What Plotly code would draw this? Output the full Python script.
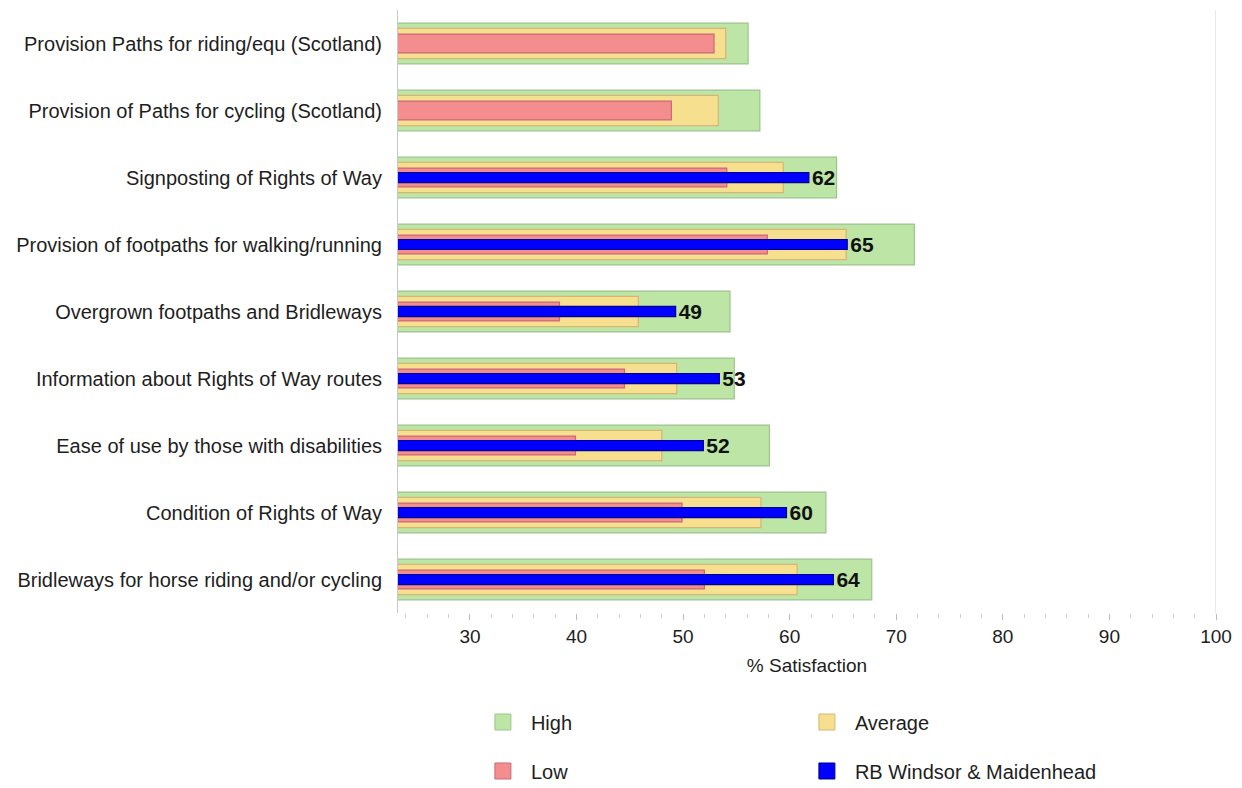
import plotly.graph_objects as go

categories = [
    "Provision Paths for riding/equ (Scotland)",
    "Provision of Paths for cycling (Scotland)",
    "Signposting of Rights of Way",
    "Provision of footpaths for walking/running",
    "Overgrown footpaths and Bridleways",
    "Information about Rights of Way routes",
    "Ease of use by those with disabilities",
    "Condition of Rights of Way",
    "Bridleways for horse riding and/or cycling",
]
high = [56.1, 57.2, 64.4, 71.7, 54.4, 54.8, 58.1, 63.4, 67.7]
average = [54.0, 53.3, 59.4, 65.3, 45.8, 49.4, 48.0, 57.3, 60.7]
low = [52.9, 48.9, 54.1, 57.9, 38.4, 44.5, 39.9, 49.9, 52.0]
rbwm = [None, None, 61.8, 65.4, 49.3, 53.4, 51.9, 59.7, 64.1]
rbwm_labels = ["" if v is None else str(round(v)) for v in rbwm]

FONT = "Liberation Sans, Arial, sans-serif"
TXT = "#1e1e1e"

series = [
    ("High", high, 0.61, "#bde5a6", "#9dc48e", "legend"),
    ("Average", average, 0.45, "#f7df90", "#d4b675", "legend"),
    ("Low", low, 0.28, "#f48e8e", "#c86a78", "legend2"),
    ("RB Windsor & Maidenhead", rbwm, 0.15, "#0000ff", "#00008b", "legend2"),
]

fig = go.Figure()
for name, vals, w, fill, edge, leg in series:
    kw = {}
    if name.startswith("RB"):
        kw = dict(text=rbwm_labels, textposition="outside", constraintext="none",
                  cliponaxis=False,
                  textfont=dict(family=FONT, size=21, color="#111111", weight="bold"))
    fig.add_trace(go.Bar(
        y=categories, x=vals, orientation="h", name=name, width=w,
        marker=dict(color=fill, line=dict(color=edge, width=1.2)),
        showlegend=False, **kw,
    ))
# legend entries (square swatches)
for name, vals, w, fill, edge, leg in series:
    fig.add_trace(go.Scatter(
        x=[None], y=[None], mode="markers", name=name, legend=leg,
        marker=dict(symbol="square", size=16, color=fill, line=dict(color=edge, width=1)),
        hoverinfo="skip",
    ))

legend_common = dict(
    orientation="h", xref="paper", yref="container", x=0.094, xanchor="left",
    yanchor="middle", entrywidth=263, entrywidthmode="pixels", itemwidth=46,
    itemsizing="trace", font=dict(size=20, color=TXT), bgcolor="rgba(0,0,0,0)",
)

fig.update_layout(
    width=1230, height=780,
    barmode="overlay",
    plot_bgcolor="white", paper_bgcolor="white",
    margin=dict(l=390, r=22, t=2, b=175, autoexpand=False),
    font=dict(family=FONT, size=20, color=TXT),
    xaxis=dict(
        range=[23.25, 100], tickvals=[30, 40, 50, 60, 70, 80, 90, 100],
        showgrid=False, zeroline=False, showline=False,
        ticks="outside", ticklen=6, tickcolor="#bbbbbb",
        minor=dict(dtick=2, tick0=0, ticks="outside", ticklen=4, tickcolor="#cccccc"),
        tickfont=dict(size=19, color=TXT),
        title=dict(text="% Satisfaction", font=dict(size=19, color=TXT), standoff=12),
    ),
    yaxis=dict(
        autorange="reversed", showgrid=False, zeroline=False,
        showline=True, linecolor="#c8c8c8", linewidth=1,
        ticks="", ticklabelstandoff=11,
        tickfont=dict(size=20, color=TXT),
    ),
    legend=dict(legend_common, y=0.0846),
    legend2=dict(legend_common, y=0.0218),
    showlegend=True,
)
fig.add_shape(type="line", xref="x", yref="paper", x0=100, x1=100, y0=0, y1=1,
              line=dict(color="#d0d0d0", width=1))

fig.write_html("out.html")
